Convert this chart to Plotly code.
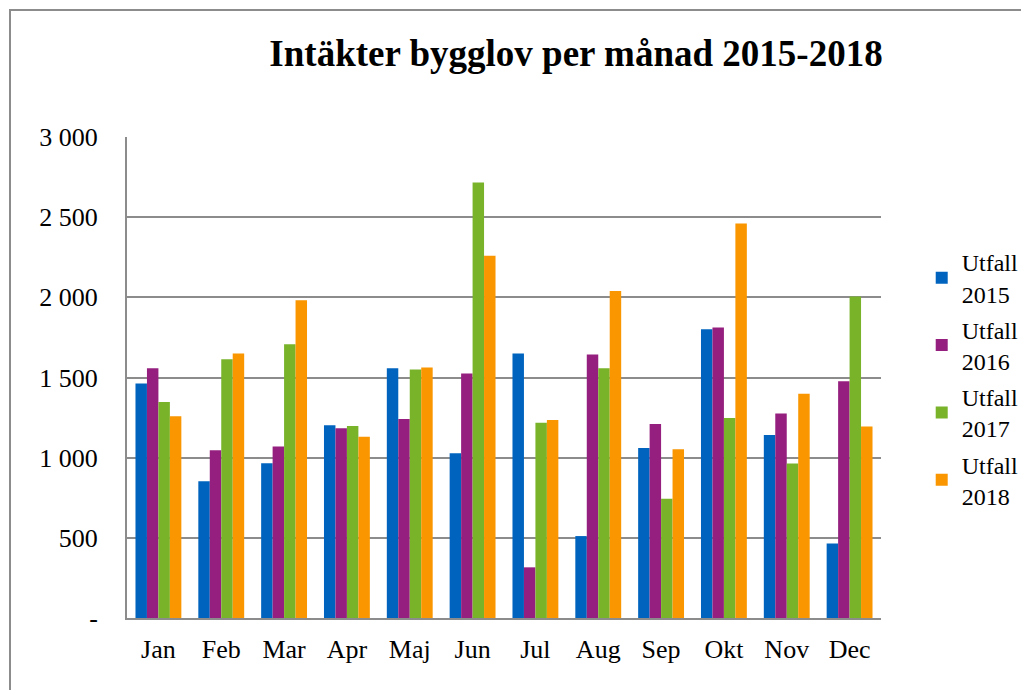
import plotly.graph_objects as go

months = ["Jan", "Feb", "Mar", "Apr", "Maj", "Jun", "Jul", "Aug", "Sep", "Okt", "Nov", "Dec"]
utfall_2015 = [1463, 853, 965, 1202, 1558, 1027, 1650, 511, 1060, 1801, 1141, 464]
utfall_2016 = [1558, 1046, 1069, 1183, 1241, 1525, 316, 1644, 1210, 1812, 1276, 1476]
utfall_2017 = [1347, 1614, 1708, 1197, 1550, 2716, 1218, 1557, 743, 1247, 963, 2005]
utfall_2018 = [1258, 1650, 1982, 1131, 1563, 2259, 1235, 2040, 1052, 2461, 1398, 1195]
series_names = ["Utfall<br>2015", "Utfall<br>2016", "Utfall<br>2017", "Utfall<br>2018"]
colors = ["#0064BF", "#951F7F", "#79B32A", "#F99600"]
tick_vals = [0, 500, 1000, 1500, 2000, 2500, 3000]
tick_text = ["-", "500", "1 000", "1 500", "2 000", "2 500", "3 000"]

FONT = "Liberation Serif, Times New Roman, serif"

W, H = 1021, 682  # page body margin offsets the plot by 8px
fig = go.Figure()
for i, (name, vals, col) in enumerate(zip(series_names, [utfall_2015, utfall_2016, utfall_2017, utfall_2018], colors)):
    fig.add_trace(go.Bar(
        x=months, y=vals, name=name, legendgroup=str(i),
        marker=dict(color=col, line=dict(width=0)),
    ))

fig.update_layout(
    width=W, height=H,
    barmode="group", bargap=0.27, bargroupgap=0,
    plot_bgcolor="white", paper_bgcolor="white",
    margin=dict(l=119, r=148, t=129, b=72, autoexpand=False),
    font=dict(family=FONT, size=24, color="black"),
    title=dict(text="<b>Intäkter bygglov per månad 2015-2018</b>",
               x=568 / W, xanchor="center", y=1 - 45 / H, yanchor="middle",
               font=dict(family=FONT, size=37, color="black")),
    legend=dict(x=1.054, xanchor="left", y=0.786, yanchor="top",
                font=dict(family=FONT, size=24, color="black"), tracegroupgap=2,
                itemwidth=30, bgcolor="rgba(0,0,0,0)"),
    showlegend=True,
    shapes=[dict(type="rect", xref="paper", yref="paper",
                 x0=(2 - 119) / 754, x1=1.6, y0=-0.3, y1=1 + (129 - 2) / 481,
                 line=dict(color="#8C8C8C", width=2), layer="below")],
)
fig.update_yaxes(range=[0, 3000], tickvals=tick_vals, ticktext=tick_text,
                 showgrid=True, gridcolor="#8C8C8C", gridwidth=2,
                 showline=True, linecolor="#8C8C8C", linewidth=2,
                 zeroline=False, ticks="", ticklabelstandoff=22,
                 tickfont=dict(family=FONT, size=26, color="black"))
fig.update_xaxes(showline=True, linecolor="#8C8C8C", linewidth=2,
                 ticks="", showgrid=False, ticklabelstandoff=7,
                 tickfont=dict(family=FONT, size=26, color="black"))

fig.write_html("out.html")
